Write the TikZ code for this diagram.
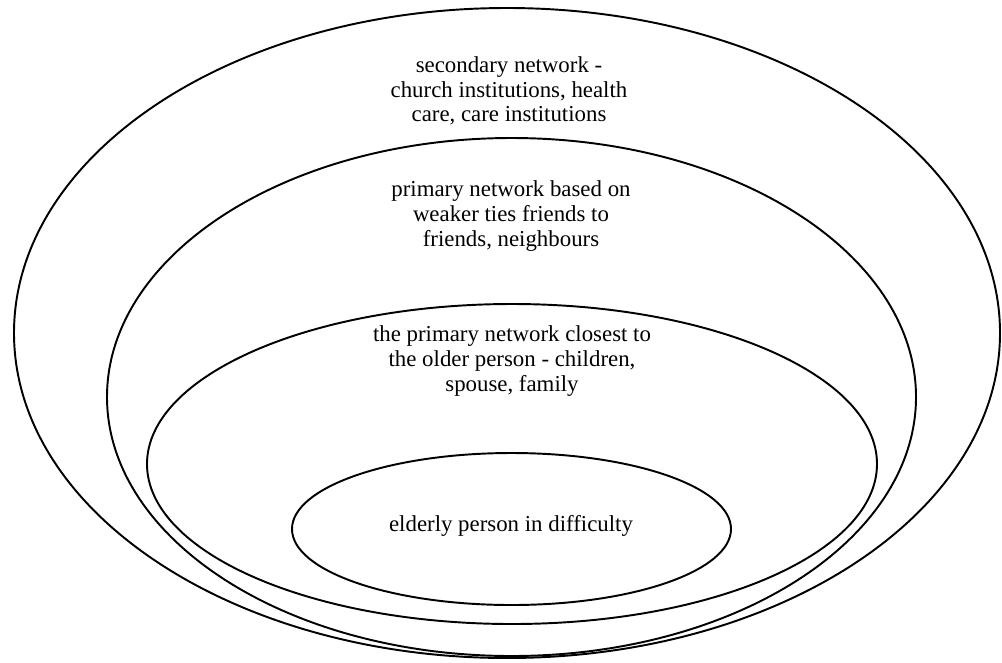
\documentclass[tikz,border=0pt]{standalone}
\usepackage{fontspec}
\setmainfont{LiberationSerif}[Extension=.ttf,UprightFont=*-Regular,BoldFont=*-Bold]
\usepackage{tikz}
\usetikzlibrary{shapes,arrows.meta}
\tikzset{ring/.style={line width=1.1pt},
         lab/.style={align=center,font=\fontsize{13}{14}\selectfont}}

\begin{document}
\begin{tikzpicture}[scale=1]
            \useasboundingbox (0,0) rectangle (20.04,-13.24);
            \draw [ring] (10.14,-6.66) ellipse (9.86cm and 6.5cm);
            \draw [ring] (10.23,-7.94) ellipse (8.09cm and 5.18cm);
            \draw [ring] (10.24,-9.28) ellipse (7.3cm and 3.2cm);
            \draw [ring] (10.23,-10.58) ellipse (4.39cm and 1.52cm);
            \node[lab] (1) at (10.18,-1.82) {secondary network -\\church institutions, health\\care, care institutions};
            \node[lab] (2) at (10.22,-4.32) {primary network based on\\weaker ties friends to\\friends, neighbours};
            \node[lab] (3) at (10.24,-7.22) {the primary network closest to\\the older person - children,\\spouse, family};
            \node[lab] (4) at (10.22,-10.52) {elderly person in difficulty};
            %{inner circle}
        \end{tikzpicture}
\end{document}
